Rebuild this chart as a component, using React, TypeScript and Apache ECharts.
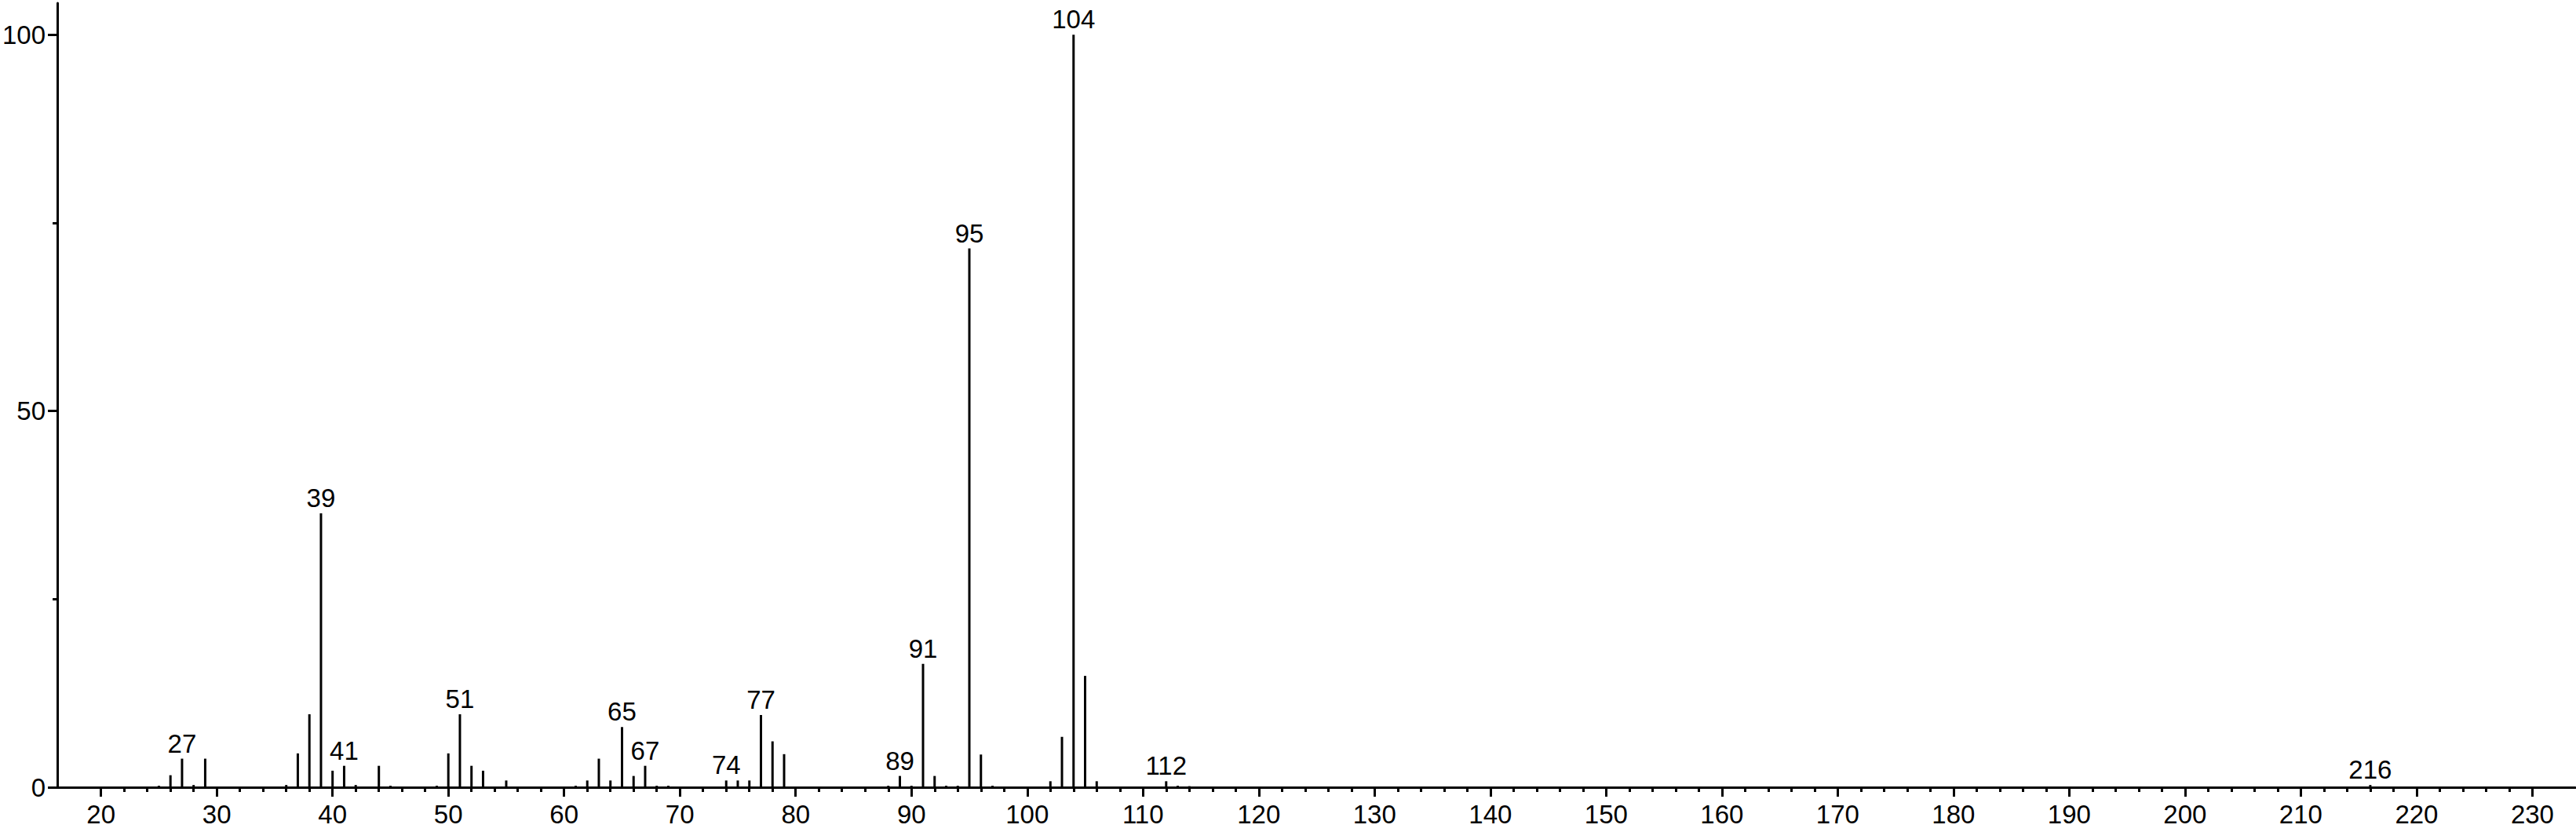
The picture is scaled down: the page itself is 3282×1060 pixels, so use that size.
import React, { useEffect, useRef } from "react";
import * as echarts from "echarts";

// m/z values and relative intensities
const mzValues = [
  25, 26, 27, 28, 29, 36, 37, 38, 39, 40, 41, 42, 44, 45, 49, 50, 51, 52, 53, 55,
  61, 62, 63, 64, 65, 66, 67, 68, 69, 74, 75, 76, 77, 78, 79, 88, 89, 90, 91, 92,
  93, 94, 95, 96, 97, 102, 103, 104, 105, 106, 112, 113, 114, 216,
];
const intensities = [
  0.2, 1.6, 3.8, 0.3, 3.8, 0.3, 4.5, 9.7, 36.4, 2.2, 2.85, 0.3, 2.85, 0.2, 0.2, 4.5, 9.7, 2.85, 2.2, 0.9,
  0.2, 0.9, 3.8, 0.9, 8.0, 1.5, 2.85, 0.2, 0.2, 0.9, 0.9, 0.9, 9.6, 6.1, 4.4, 0.2, 1.5, 0.2, 16.4, 1.5,
  0.2, 0.2, 71.6, 4.35, 0.2, 0.8, 6.7, 100, 14.8, 0.8, 0.8, 0.2, 0.15, 0.3,
];
const labeledPeaks = [27, 39, 41, 51, 65, 67, 74, 77, 89, 91, 95, 104, 112, 216];

const xMin = 16.23;
const xMax = 233.7;
const yMin = 0;
const yMax = 104.2;
const xMajorTicks = [20, 30, 40, 50, 60, 70, 80, 90, 100, 110, 120, 130, 140, 150, 160, 170, 180, 190, 200, 210, 220, 230];
const yMajorTicks = [0, 50, 100];
const yMinorTicks = [25, 75];

const xMinorTicks: number[] = [];
for (let v = 22; v <= 228; v += 2) {
  if (v % 10 !== 0) xMinorTicks.push(v);
}

const FONT = "Liberation Sans, Arial, sans-serif";
const FONT_SIZE = 33;

export default function App() {
  const ref = useRef<HTMLDivElement>(null);

  useEffect(() => {
    if (!ref.current) return;
    const chart = echarts.init(ref.current, null, { renderer: "svg" });

    const data = mzValues.map((mz, i) => {
      const item: any = { value: [mz, intensities[i]] };
      if (labeledPeaks.includes(mz)) item.label = { show: true };
      return item;
    });

    const lineStyle = { color: "#000", width: 3 };

    chart.setOption({
      animation: false,
      backgroundColor: "#fff",
      grid: { left: 69, right: 1, top: 4, bottom: 57, containLabel: false },
      xAxis: [
        {
          type: "value",
          min: xMin,
          max: xMax,
          axisLine: { show: true, onZero: false, lineStyle },
          axisTick: { show: true, length: 12, lineStyle, customValues: xMajorTicks },
          axisLabel: {
            show: true,
            customValues: xMajorTicks,
            margin: 18,
            color: "#000",
            fontSize: FONT_SIZE,
            fontFamily: FONT,
          },
          splitLine: { show: false },
        },
        {
          type: "value",
          min: xMin,
          max: xMax,
          position: "bottom",
          axisLine: { show: false },
          axisTick: { show: true, length: 6, lineStyle, customValues: xMinorTicks },
          axisLabel: { show: false },
          splitLine: { show: false },
        },
      ],
      yAxis: [
        {
          type: "value",
          min: yMin,
          max: yMax,
          axisLine: { show: true, onZero: false, lineStyle },
          axisTick: { show: true, length: 12, lineStyle, customValues: yMajorTicks },
          axisLabel: {
            show: true,
            customValues: yMajorTicks,
            margin: 15,
            color: "#000",
            fontSize: FONT_SIZE,
            fontFamily: FONT,
          },
          splitLine: { show: false },
        },
        {
          type: "value",
          min: yMin,
          max: yMax,
          position: "left",
          axisLine: { show: false },
          axisTick: { show: true, length: 6, lineStyle, customValues: yMinorTicks },
          axisLabel: { show: false },
          splitLine: { show: false },
        },
      ],
      series: [
        {
          type: "bar",
          xAxisIndex: 0,
          yAxisIndex: 0,
          barWidth: 3,
          itemStyle: { color: "#000" },
          label: {
            show: false,
            position: "top",
            distance: 3,
            color: "#000",
            fontSize: FONT_SIZE,
            fontFamily: FONT,
            formatter: (p: any) => String(p.value[0]),
          },
          data,
        },
      ],
    });

    return () => chart.dispose();
  }, []);

  return (
    <div
      ref={ref}
      style={{ position: "absolute", left: 0, top: 0, width: 3282, height: 1060 }}
    />
  );
}
